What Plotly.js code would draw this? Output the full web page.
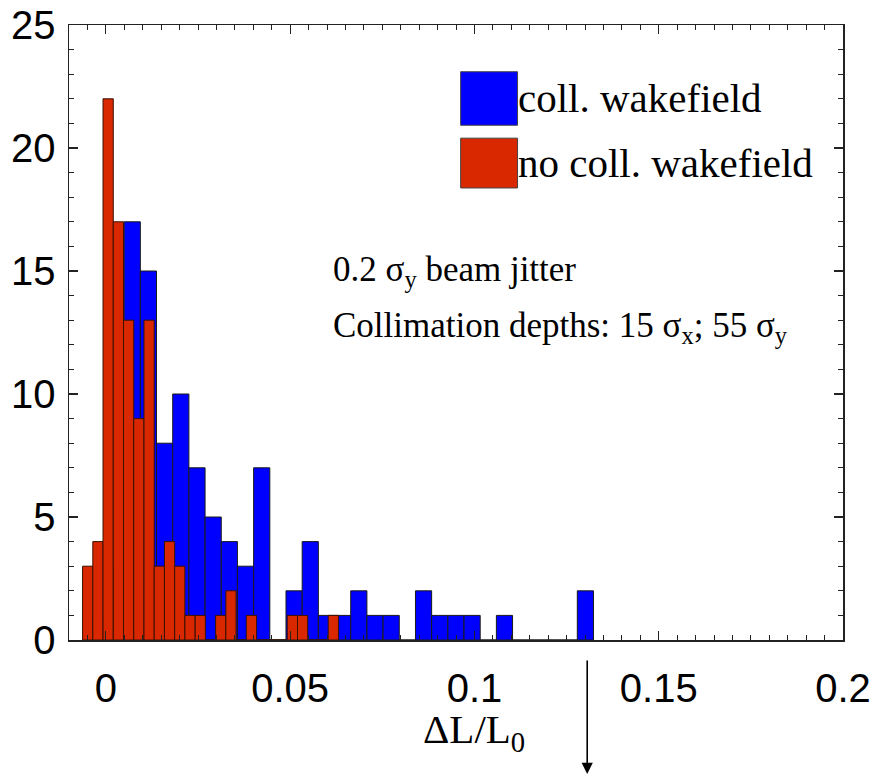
<!DOCTYPE html>
<html>
<head>
<meta charset="utf-8">
<script src="https://cdn.plot.ly/plotly-3.0.1.min.js"></script>
<style>html,body{margin:0;padding:0;background:#fff;}#chart{width:890px;height:775px;}</style>
</head>
<body>
<div id="chart"></div>
<script>
// Histogram counts
const seriesNames = ["coll. wakefield", "no coll. wakefield"];
// with collimator wakefield (blue): bin start and width in ΔL/L0
const blueBinStart = -0.00382;
const blueBinWidth = 0.004391;
const blueCounts = [1, 3, 17, 15, 8, 10, 7, 5, 4, 3, 7, 0, 2, 4, 1, 1, 2, 1, 1, 0, 2, 1, 1, 1, 0, 1, 0, 0, 0, 0, 2];
// without collimator wakefield (red)
const redBinStart = -0.00632;
const redBinWidth = 0.002777;
const redCounts = [3, 4, 22, 17, 13, 9, 13, 3, 4, 3, 1, 1, 0, 1, 2, 0, 1, 0, 0, 0, 1, 1, 0, 0, 1];
// marked value (arrow below the axis)
const markedValue = 0.1306;

const xTickVals = [0, 0.05, 0.1, 0.15, 0.2];
const xTickText = ["0", "0.05", "0.1", "0.15", "0.2"];
const yTickVals = [0, 5, 10, 15, 20, 25];

const blueX = blueCounts.map((_, i) => blueBinStart + (i + 0.5) * blueBinWidth);
const redX = redCounts.map((_, i) => redBinStart + (i + 0.5) * redBinWidth);

const BLUE = "#0000FF";
const RED = "#D92800";
const SERIF = "'Liberation Serif', 'Times New Roman', serif";
const SANS = "'Liberation Sans', Arial, Helvetica, sans-serif";

const traces = [
  {type: "bar", name: seriesNames[0], x: blueX, y: blueCounts, width: blueBinWidth,
   marker: {color: BLUE, line: {color: "#1a1a1a", width: 1}}, showlegend: false},
  {type: "bar", name: seriesNames[1], x: redX, y: redCounts, width: redBinWidth,
   marker: {color: RED, line: {color: "#3a1200", width: 1}}, showlegend: false}
];

const axisCommon = {
  showgrid: false, zeroline: false, showline: true, linecolor: "#222", linewidth: 1.5,
  mirror: "allticks", ticks: "inside", ticklen: 9, tickwidth: 1.2, tickcolor: "#222",
  tickfont: {family: SANS, size: 40, color: "#000"}
};

const layout = {
  width: 890, height: 775,
  margin: {l: 69, r: 47, t: 25, b: 135},
  paper_bgcolor: "#fff", plot_bgcolor: "#fff",
  barmode: "overlay", bargap: 0,
  xaxis: Object.assign({}, axisCommon, {
    range: [-0.01, 0.2], tickvals: xTickVals, ticktext: xTickText, ticklabelstandoff: 12,
    minor: {dtick: 0.005, tick0: 0, ticks: "inside", ticklen: 5, tickwidth: 1, tickcolor: "#222"}
  }),
  yaxis: Object.assign({}, axisCommon, {
    range: [0, 25], tickvals: yTickVals, ticklabelstandoff: 4,
    minor: {dtick: 1, tick0: 0, ticks: "inside", ticklen: 5, tickwidth: 1, tickcolor: "#222"}
  }),
  shapes: [
    {type: "rect", xref: "paper", yref: "paper", x0: 0.506, x1: 0.5795, y0: 0.837, y1: 0.924,
     fillcolor: BLUE, line: {color: "#444", width: 1}},
    {type: "rect", xref: "paper", yref: "paper", x0: 0.506, x1: 0.5795, y0: 0.735, y1: 0.816,
     fillcolor: RED, line: {color: "#444", width: 1}}
  ],
  annotations: [
    {xref: "paper", yref: "paper", x: 0.578, y: 0.881, xanchor: "left", yanchor: "middle",
     text: seriesNames[0], showarrow: false, font: {family: SERIF, size: 41, color: "#000"}},
    {xref: "paper", yref: "paper", x: 0.578, y: 0.7756, xanchor: "left", yanchor: "middle",
     text: seriesNames[1], showarrow: false, font: {family: SERIF, size: 41, color: "#000"}},
    {xref: "x", yref: "y", x: 0.0612, y: 15.0, xanchor: "left", yanchor: "middle",
     text: "0.2 σ<sub>y</sub> beam jitter", showarrow: false, font: {family: SERIF, size: 35, color: "#000"}},
    {xref: "x", yref: "y", x: 0.0612, y: 12.7, xanchor: "left", yanchor: "middle",
     text: "Collimation depths: 15 σ<sub>x</sub>; 55 σ<sub>y</sub>", showarrow: false, font: {family: SERIF, size: 35, color: "#000"}},
    {xref: "x", yref: "paper", x: 0.0855, y: -0.15, xanchor: "left", yanchor: "middle",
     text: "ΔL/L<sub>0</sub>", showarrow: false, font: {family: SERIF, size: 41, color: "#000"}},
    {xref: "x", yref: "paper", x: markedValue, y: -0.2195, text: "", showarrow: true,
     axref: "pixel", ayref: "pixel", ax: 0, ay: -116, arrowhead: 2, arrowsize: 1.4, arrowwidth: 1.6, arrowcolor: "#000"}
  ]
};

Plotly.newPlot("chart", traces, layout, {staticPlot: true, displayModeBar: false});
</script>
</body>
</html>
